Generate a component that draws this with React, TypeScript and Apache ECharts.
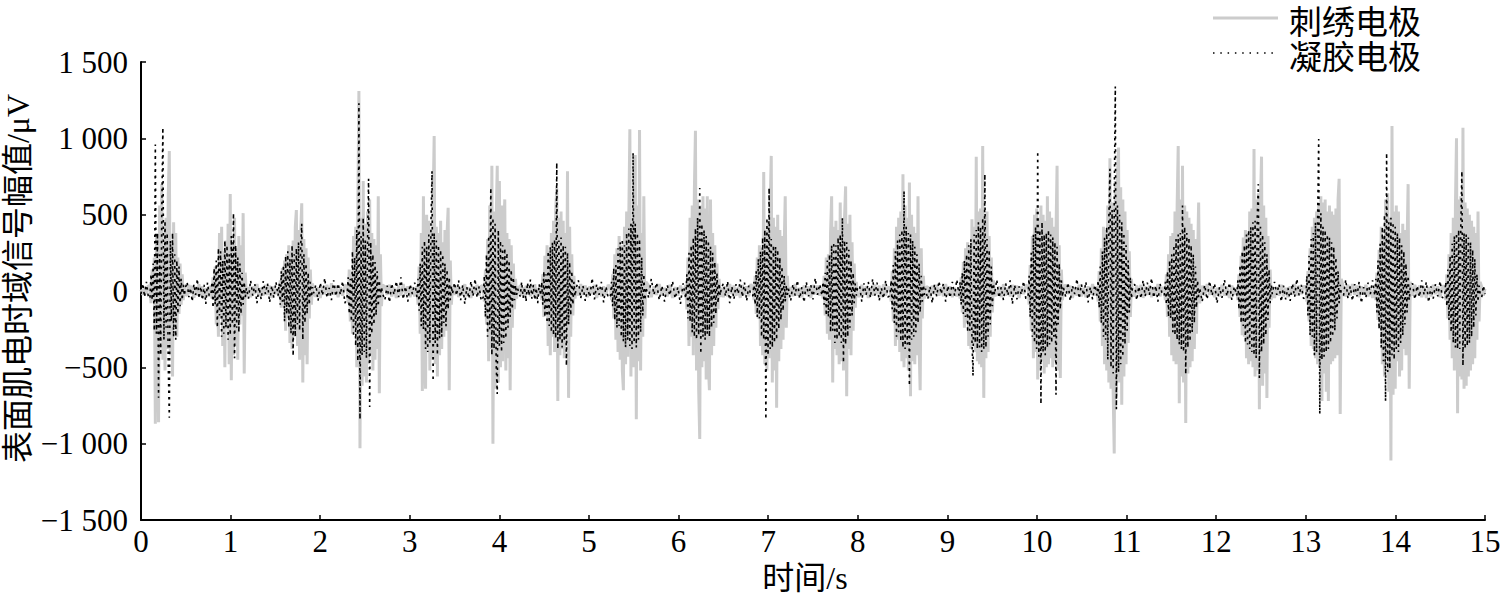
import React, { useEffect, useRef } from "react";
import * as echarts from "echarts";

// ---- axes ----
const xMin = 0;
const xMax = 15;
const xInterval = 1;
const yMin = -1500;
const yMax = 1500;
const yInterval = 500;

// ---- series names ----
const seriesNames = ["刺绣电极", "凝胶电极"];

// ---- sampling ----
const burstStep = 0.012; // seconds between samples inside a burst
const burstStarts = [
  0.1, 0.78, 1.53, 2.3, 3.08, 3.82, 4.46, 5.24, 6.08, 6.83, 7.6, 8.36, 9.13,
  9.9, 10.67, 11.42, 12.23, 13.0, 13.77, 14.55,
];

// ---- 刺绣电极 (embroidered electrode), burst samples, μV ----
const embroideredBursts: number[][] = [
  [30,-80,140,-60,220,-870,380,-240,-860,560,-320,700,-450,260,-520,480,-380,620,917,-420,300,-560,450,-200,380,-300,220,-150,180,-90,110,-60,40,-20],
  [20,-50,90,-40,160,-220,120,-300,380,-180,420,-360,260,-500,330,-250,440,-480,635,-585,300,-420,480,-360,280,-450,360,-220,300,-160,510,-540,120,-40],
  [20,-40,70,-110,150,-90,200,-260,240,-180,300,-340,260,-380,330,-300,420,530,-360,400,-450,380,575,-600,340,-420,280,-480,220,-180,140,-90,50,-20],
  [30,-80,140,-200,110,-280,360,-220,420,-500,560,1310,-1030,480,-620,720,-560,440,-600,520,-480,600,-420,380,-520,340,-450,300,-380,620,-670,240,-100,40],
  [30,-90,160,-280,380,-655,620,-400,-640,500,-380,460,-520,400,-450,560,1015,-480,420,-560,380,-420,460,-380,320,-300,400,-260,380,545,-650,200,-90,30],
  [30,-70,140,-220,340,-460,560,-380,820,-1000,520,-640,460,820,-600,720,-500,560,-460,400,600,-520,380,-440,340,-650,300,-240,180,-120,80,-50,30,-15],
  [20,-60,110,-170,230,-140,300,-360,260,-420,380,-300,460,-400,520,675,-720,480,-420,520,-380,460,-440,380,-360,785,-700,420,-300,240,-160,100,-50,20],
  [20,-60,110,-180,240,-320,280,-400,360,-450,300,-520,-650,420,-480,520,-430,480,1060,-560,440,-500,600,890,-840,560,-460,1055,-520,380,-300,620,-180,60],
  [40,-120,220,-360,480,-300,560,-420,660,1050,-520,600,-640,-970,560,-500,620,-460,540,-580,620,-480,-650,600,-420,380,-360,300,-240,180,-120,80,-40,20],
  [20,-60,100,-150,220,-180,300,-360,280,-420,780,-480,400,-520,460,-440,560,885,-600,480,-520,420,-765,500,-460,400,-380,360,-320,280,620,-240,100,-40],
  [20,-50,100,-160,220,-280,240,-320,380,620,-600,420,-380,460,-420,400,-480,580,-460,400,-520,480,685,-690,440,-380,500,-420,320,-260,180,-110,60,-30],
  [20,-70,130,-200,280,-360,420,-320,480,-400,520,-460,765,-500,560,-440,480,-520,710,-690,500,-460,420,-480,380,-420,620,-360,-650,280,-180,100,-50,20],
  [20,-50,90,-140,190,-240,280,-200,320,-360,300,-380,470,-340,420,-400,880,-460,520,-480,540,-500,950,-700,480,-440,520,-400,360,-300,220,-140,70,-30],
  [30,-90,170,-260,360,-440,500,-400,540,-580,480,-520,560,-460,500,-540,460,-500,620,-480,520,-440,480,-500,420,-460,380,820,-520,300,-570,140,-60,30],
  [30,-70,130,-200,280,-360,420,-480,400,-520,560,-600,870,-640,580,-660,-1065,720,-700,760,940,-600,680,-745,600,-560,520,-480,400,-340,260,-170,80,-30],
  [20,-60,110,-170,240,-300,360,-420,380,-460,520,-480,560,950,-735,600,-560,820,-600,560,-865,520,-540,480,-500,440,-460,400,-380,340,-280,200,580,-80],
  [20,-60,110,-170,230,-290,350,-300,400,-440,380,-480,520,-460,540,-500,930,-560,600,-520,640,-775,580,880,-620,560,-540,480,-700,360,-240,140,-60,30],
  [30,-70,130,-200,280,-360,420,-380,480,-440,520,-480,560,-500,620,-720,580,-540,600,-660,520,-720,560,-480,520,-460,500,-440,540,-420,600,735,-805,80],
  [20,-60,120,-190,270,-240,420,-480,360,-560,600,-420,640,-660,480,-1110,1080,-680,520,-640,560,-460,520,-560,380,-520,440,-380,400,-420,300,700,-640,60],
  [20,-60,110,-180,240,-320,380,-440,480,-520,560,1000,-800,600,-560,620,-580,1070,-640,580,-620,540,-560,500,-520,460,-480,420,-440,380,-320,520,-200,60],
];

// ---- 刺绣电极 resting samples between bursts (first = before burst 1, last = after burst 20) ----
const embroideredRest: number[][] = [
  [10,-25,30,-20,35],
  [-30,40,-20,35,-45,25,-30,45,-25,30,-40,20,-35,30],
  [25,-40,30,-20,45,-35,20,-30,40,-25,35,-45,30,-20],
  [-35,25,-45,30,-20,40,-30,50,-25,35,-40,25,-30,40],
  [30,-25,40,-35,20,-45,35,-30,45,-20,30,-40,25,-35],
  [-25,35,-40,20,-30,45,-35,25,-45,30,-20,40,-30,35],
  [40,-30,25,-45,35,-20,40,-35,30,-25,45,-40,20,-30],
  [-30,45,-25,35,-40,30,-20,40,-45,25,-35,30,-25,40],
  [35,-40,30,-25,45,-30,20,-35,40,-45,25,-30,35,-20],
  [-40,30,-35,45,-20,35,-30,25,-45,40,-25,30,-35,45],
  [25,-35,45,-30,20,-40,35,-25,30,-45,40,-20,35,-30],
  [-35,40,-25,30,-45,25,-30,40,-20,35,-40,45,-30,25],
  [30,-45,35,-20,40,-30,25,-35,45,-25,30,-40,20,-35],
  [-25,30,-40,45,-30,20,-35,40,-25,35,-45,30,-20,40],
  [40,-20,35,-45,25,-30,40,-35,20,-40,30,-25,45,-30],
  [-30,35,-20,40,-45,30,-25,35,-40,25,-30,45,-35,20],
  [35,-30,45,-25,30,-40,20,-35,40,-30,25,-45,35,-25],
  [-45,25,-30,40,-35,20,-40,30,-25,45,-30,35,-20,30],
  [20,-35,40,-30,45,-25,35,-40,30,-20,40,-35,25,-45],
  [-30,40,-25,35,-40,30,-45,25,-35,40,-20,30,-40,35],
  [25,-30,15],
];

// ---- 凝胶电极 (gel electrode), burst samples, μV ----
const gelBursts: number[][] = [
  [-50,110,-60,180,-260,960,-280,380,-700,240,-420,520,1070,-320,460,-240,380,-480,-830,330,-200,380,-300,240,-320,200,-150,160,-100,80,-60,40,-30,20],
  [-30,60,-110,150,-90,200,-240,280,-160,260,-300,200,-280,330,-240,300,-320,240,-290,360,-220,510,-440,300,-240,220,-270,180,-150,120,-90,60,-40,20],
  [-30,50,-90,130,-70,170,-200,230,-150,260,-240,210,-280,300,-425,240,-300,280,-220,320,-260,290,440,-320,240,-210,180,-150,120,-90,60,-40,25,-15],
  [-40,90,-150,80,-200,260,-300,220,-360,400,-460,1230,-840,360,-420,480,-400,330,-440,300,735,-760,320,-280,240,-220,190,-160,130,-100,70,-40,25,-15],
  [-40,80,-130,180,-230,290,-250,330,-380,290,-400,370,-340,430,785,-590,380,-340,330,-420,300,-310,270,-300,240,-210,180,-230,140,-120,90,-60,35,-20],
  [-40,100,-170,240,-300,360,-250,675,-420,480,-380,440,-480,-675,400,-360,330,-400,300,-340,280,-310,250,-240,200,-170,140,-120,90,-60,40,-25,15,-10],
  [-30,60,-90,130,-170,110,-210,260,-230,290,-270,320,-290,340,-310,840,-380,330,-320,350,-370,300,-330,290,-490,250,-220,190,-160,130,-90,60,-35,15],
  [-30,60,-100,150,-190,170,-240,280,-230,320,-300,340,-330,300,-370,380,-320,410,-360,440,-380,905,-340,440,-370,380,-320,340,-270,220,-160,110,-60,25],
  [-50,110,-180,250,-200,300,-270,350,-300,410,-320,480,-290,675,-410,440,-300,400,-320,360,-280,330,-300,290,-240,250,-210,190,-150,120,-80,50,-30,15],
  [-30,60,-90,130,-170,210,-180,260,-300,350,-320,400,-840,480,-420,675,-380,340,-370,300,-340,290,-320,270,-250,220,-190,160,-130,100,-70,40,-25,15],
  [-30,60,-90,120,-160,200,-170,240,-270,300,-260,320,-340,300,-320,350,-300,370,-340,480,-470,330,-350,320,-300,270,-240,200,-160,120,-80,50,-30,15],
  [-30,70,-120,170,-210,260,-300,330,-270,370,-330,400,-370,655,-380,420,-350,380,-620,370,-320,330,-300,290,-270,240,-210,180,-140,100,-70,40,-25,15],
  [-30,60,-90,120,-150,200,-170,240,-270,300,-260,340,-320,-555,370,-340,400,-380,450,-370,420,-400,480,-380,765,-370,340,-300,270,-220,160,-100,50,-25],
  [-40,100,-170,250,-300,370,-340,420,-380,915,-430,400,-740,450,-400,370,-420,380,-370,400,-350,370,-340,350,-300,320,-680,290,-220,180,-120,70,-40,20],
  [-30,70,-110,160,-210,260,-300,350,-320,420,-450,480,800,-500,530,-540,580,1340,-775,560,-530,500,-480,450,-430,380,-350,300,-260,200,-140,90,-50,25],
  [-30,60,-90,130,-170,200,-180,240,-270,300,-290,340,-320,370,-350,380,-380,560,-400,420,-545,380,-370,350,-330,300,-270,240,-210,160,-110,70,-40,20],
  [-30,70,-120,170,-210,260,-230,300,-340,370,-350,400,-380,420,-400,450,-420,460,-440,480,700,-570,420,-400,370,-350,320,-290,240,-190,140,-80,40,-20],
  [-40,100,-160,230,-290,340,-300,380,-420,450,-400,480,995,-805,510,-450,420,-430,400,-400,370,-380,350,-340,320,-300,290,-260,220,-180,130,-80,40,-20],
  [-30,80,-140,200,-250,310,-370,420,-460,500,-720,905,-530,450,-510,480,-420,450,-450,420,-380,380,-400,350,-340,300,-290,260,-220,180,-140,100,-60,25],
  [-30,60,-100,140,-190,230,-270,310,-340,360,-370,380,-380,400,-380,420,785,-490,380,-380,370,-360,350,-340,320,-300,270,-240,210,-160,110,-70,35,-20],
];

// ---- 凝胶电极 resting samples between bursts ----
const gelRest: number[][] = [
  [-20,50,-40,60,-30],
  [60,-40,20,-70,45,-25,80,-50,30,-60,40,-85,55,-30],
  [-50,70,-30,45,-80,25,-55,65,-20,50,-75,35,-45,60],
  [40,-65,55,-30,85,-45,20,-60,70,-35,50,-25,65,-80],
  [-60,35,-75,50,-25,65,-40,90,-55,30,-70,45,-20,55],
  [55,-30,70,-60,40,-85,25,-50,65,-35,80,-45,30,-65],
  [-35,60,-45,25,-70,55,-30,75,-50,40,-60,20,-80,45],
  [70,-50,35,-65,20,-40,85,-55,45,-25,60,-75,30,-45],
  [-45,80,-25,55,-60,35,-70,40,-30,65,-50,25,-85,50],
  [50,-35,65,-80,30,-55,45,-20,75,-40,55,-65,35,-30],
  [-65,45,-30,70,-50,25,-75,60,-35,40,-55,85,-25,45],
  [35,-70,50,-25,60,-45,80,-30,55,-65,20,-50,70,-40],
  [-55,30,-80,45,-35,65,-20,50,-70,35,-45,60,-30,75],
  [75,-45,25,-60,50,-30,70,-85,40,-55,30,-25,65,-50],
  [-40,55,-65,35,-20,80,-50,45,-30,60,-75,25,-55,40],
  [45,-60,30,-50,70,-35,55,-25,85,-45,35,-70,50,-20],
  [-70,40,-55,65,-30,50,-80,25,-45,75,-35,55,-60,30],
  [60,-25,45,-70,35,-55,20,-65,50,-40,80,-30,40,-50],
  [-30,75,-50,30,-65,45,-35,60,-80,25,-45,55,-20,70],
  [50,-55,35,-40,70,-25,60,-75,30,-50,45,-35,65,-45],
  [-40,35,-20],
];

// Place the typed samples on the time axis (x positions only).
function buildSeries(bursts: number[][], rests: number[][]): [number, number][] {
  const pts: [number, number][] = [];
  for (let i = 0; i < burstStarts.length; i++) {
    const gapStart = i === 0 ? xMin : burstStarts[i - 1] + (bursts[i - 1].length - 1) * burstStep;
    const gapEnd = burstStarts[i];
    const r = rests[i];
    r.forEach((v, k) => {
      const frac = i === 0 ? k / r.length : (k + 1) / (r.length + 1);
      pts.push([gapStart + frac * (gapEnd - gapStart), v]);
    });
    bursts[i].forEach((v, k) => pts.push([burstStarts[i] + k * burstStep, v]));
  }
  const last = burstStarts.length - 1;
  const tailStart = burstStarts[last] + (bursts[last].length - 1) * burstStep;
  const tail = rests[rests.length - 1];
  tail.forEach((v, k) => {
    pts.push([tailStart + ((k + 1) / tail.length) * (xMax - tailStart), v]);
  });
  return pts;
}

const serif = "Liberation Serif";
const mixed = "Liberation Serif, Noto Sans CJK SC";
const cjk = "Noto Sans CJK SC";

function formatY(v: number): string {
  const a = Math.abs(v);
  const s = a >= 1000 ? Math.floor(a / 1000) + " " + String(a % 1000).padStart(3, "0") : String(a);
  return (v < 0 ? "\u2212" : "") + s;
}

export default function App() {
  const ref = useRef<HTMLDivElement>(null);

  useEffect(() => {
    if (!ref.current) return;
    const chart = echarts.init(ref.current, null, { renderer: "svg" });
    const embroidered = buildSeries(embroideredBursts, embroideredRest);
    const gel = buildSeries(gelBursts, gelRest);

    chart.setOption({
      animation: false,
      backgroundColor: "#ffffff",
      grid: {
        left: 141,
        right: 15,
        top: 62,
        bottom: 74,
        containLabel: false,
        outerBoundsMode: "none",
      },
      graphic: [
        {
          type: "line",
          shape: { x1: 1213, y1: 18, x2: 1278, y2: 18 },
          style: { stroke: "#cccccc", lineWidth: 3 },
          silent: true,
        },
        {
          type: "line",
          shape: { x1: 1213, y1: 53, x2: 1278, y2: 53 },
          style: { stroke: "#000000", lineWidth: 1.5, lineDash: [1.5, 5.8] },
          silent: true,
        },
        {
          type: "text",
          x: 1289,
          y: 20,
          style: {
            text: seriesNames[0],
            fontFamily: cjk,
            fontSize: 33,
            lineHeight: 33,
            fill: "#000",
            verticalAlign: "middle",
            align: "left",
          },
          silent: true,
        },
        {
          type: "text",
          x: 1289,
          y: 55,
          style: {
            text: seriesNames[1],
            fontFamily: cjk,
            fontSize: 33,
            lineHeight: 33,
            fill: "#000",
            verticalAlign: "middle",
            align: "left",
          },
          silent: true,
        },
      ],
      xAxis: {
        type: "value",
        min: xMin,
        max: xMax,
        interval: xInterval,
        name: "时间/s",
        nameLocation: "middle",
        nameGap: 37,
        nameTextStyle: {
          fontFamily: mixed,
          fontSize: 32,
          lineHeight: 32,
          color: "#000",
          padding: [0, 16, 0, 0],
        },
        axisLine: { onZero: false, lineStyle: { color: "#000", width: 2 } },
        axisTick: { inside: true, length: 5, lineStyle: { color: "#000", width: 1.5 } },
        axisLabel: { margin: 6, fontFamily: serif, fontSize: 31, color: "#000" },
        splitLine: { show: false },
      },
      yAxis: {
        type: "value",
        min: yMin,
        max: yMax,
        interval: yInterval,
        name: "表面肌电时域信号幅值/μV",
        nameLocation: "middle",
        nameRotate: 90,
        nameGap: 107,
        nameMoveOverlap: false,
        nameTextStyle: {
          fontFamily: mixed,
          fontSize: 32,
          lineHeight: 32,
          color: "#000",
          padding: [0, 0, 0, 25],
        },
        axisLine: { show: true, onZero: false, lineStyle: { color: "#000", width: 2 } },
        axisTick: { show: true, inside: true, length: 5, lineStyle: { color: "#000", width: 1.5 } },
        axisLabel: { margin: 13, fontFamily: serif, fontSize: 31, color: "#000", formatter: formatY },
        splitLine: { show: false },
      },
      series: [
        {
          name: seriesNames[0],
          type: "line",
          data: embroidered,
          symbol: "none",
          lineStyle: { color: "#cccccc", width: 3 },
          itemStyle: { color: "#cccccc" },
          z: 2,
        },
        {
          name: seriesNames[1],
          type: "line",
          data: gel,
          symbol: "none",
          lineStyle: { color: "#000000", width: 1.6, type: [2.5, 4] },
          itemStyle: { color: "#000000" },
          z: 3,
        },
      ],
    });
    return () => chart.dispose();
  }, []);

  return (
    <div
      ref={ref}
      style={{ position: "fixed", left: 0, top: 0, width: 1500, height: 594, background: "#fff" }}
    />
  );
}
